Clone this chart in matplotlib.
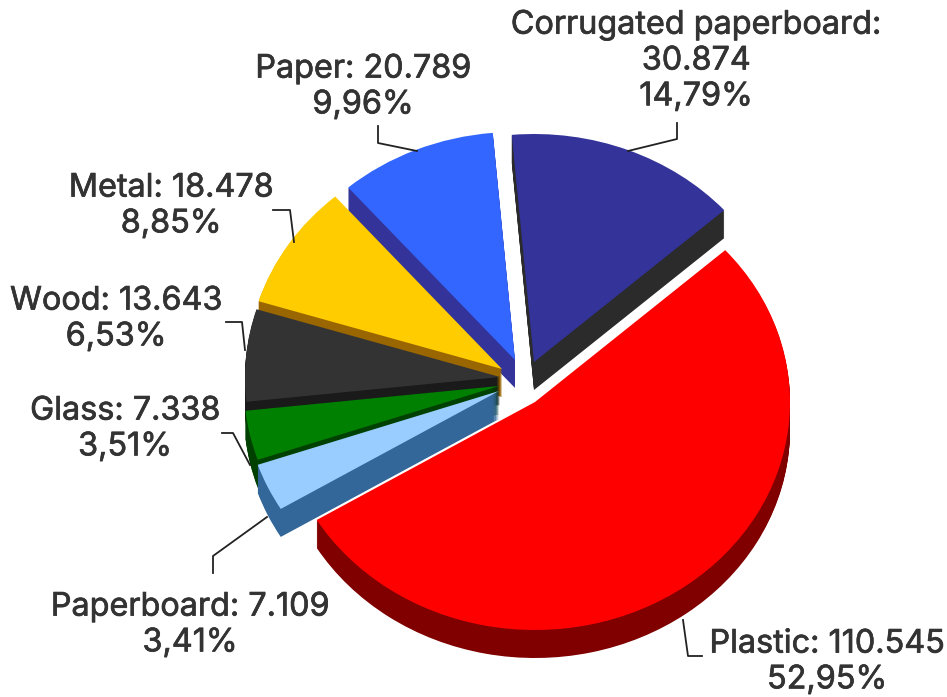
import matplotlib
matplotlib.use("Agg")
import matplotlib.pyplot as plt
import matplotlib.patheffects as pe
from matplotlib.patches import Wedge
from matplotlib.transforms import Affine2D

# DATA (clockwise from the top)
names = ["Corrugated paperboard", "Plastic", "Paperboard", "Glass", "Wood", "Metal", "Paper"]
values = ["30.874", "110.545", "7.109", "7.338", "13.643", "18.478", "20.789"]
amounts = [30874, 110545, 7109, 7338, 13643, 18478, 20789]
percents = ["14,79%", "52,95%", "3,41%", "3,51%", "6,53%", "8,85%", "9,96%"]

# STYLE
top_colors = ["#333399", "#ff0000", "#99ccff", "#008000", "#333333", "#ffcc00", "#3366ff"]
side_colors = ["#2b2b2b", "#800000", "#336699", "#004000", "#1a1a1a", "#996600", "#333399"]
apex = [(534, 362), (535, 402), (499, 391), (499, 386), (500, 377), (502, 369), (515, 360)]
label_pos = [(696, 61), (827, 662), (190, 625), (125, 429), (116, 319), (171, 206), (363, 87)]
leaders = [
    [(628, 151), (677, 139), (677, 123)],
    [(683, 620), (688, 656), (702, 656)],
    [(267, 517), (213, 556), (213, 573)],
    [(222, 433), (233, 433), (250, 465)],
    [(226, 322), (242, 322), (245, 350)],
    [(273, 210), (290, 210), (294, 242)],
    [(417, 151), (378, 143), (378, 126)],
]
draw_order = [0, 1, 6, 5, 4, 3, 2]   # back to front
rx, ry = 255, 228
depth = 28
start = 95

fig = plt.figure(figsize=(9.47, 6.97), dpi=100)
ax = fig.add_axes([0, 0, 1, 1])
ax.set_xlim(0, 947)
ax.set_ylim(697, 0)
ax.axis("off")

# angle of each slice, from the amounts
total = sum(amounts)
angles = []
a = start
for v in amounts:
    sweep = v / total * 360
    angles.append((a - sweep, a))
    a -= sweep

# slices, stacked down to fake the 3D side
for i in draw_order:
    cx, cy = apex[i]
    for d in range(depth, -1, -1):
        color = top_colors[i] if d == 0 else side_colors[i]
        tr = Affine2D().scale(rx, -ry).translate(cx, cy + d) + ax.transData
        ax.add_patch(Wedge((0, 0), 1, angles[i][0], angles[i][1], facecolor=color,
                           edgecolor="none", linewidth=0, transform=tr))

# leader lines
for pts in leaders:
    ax.plot([p[0] for p in pts], [p[1] for p in pts], color="#222222", lw=1.3, zorder=1)

# labels
for i in range(len(names)):
    name = names[i] + ":\n" + values[i] if i == 0 else names[i] + ": " + values[i]
    ax.text(label_pos[i][0], label_pos[i][1], name + "\n" + percents[i], ha="center", va="center",
            family="Inter", fontsize=23.3, color="#333333", linespacing=1.2,
            path_effects=[pe.withStroke(linewidth=0.5, foreground="#333333")])

fig.savefig("out.png", dpi=100, facecolor="white")
